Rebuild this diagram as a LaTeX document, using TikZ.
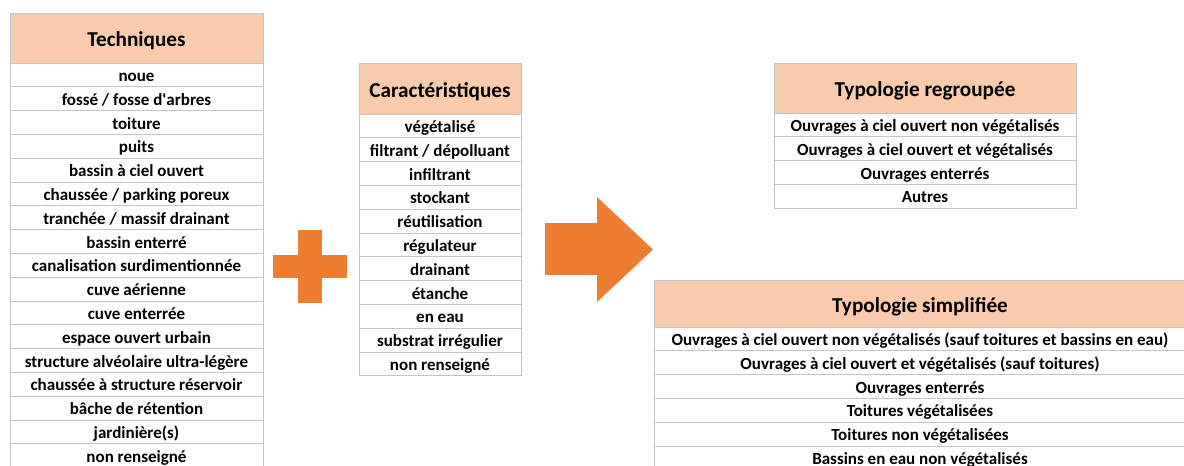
\documentclass[tikz,border=0pt]{standalone}
\usepackage{fontspec}
\setmainfont{Carlito}
\usetikzlibrary{positioning}
\definecolor{peach}{HTML}{F8CBAD}
\definecolor{plusorange}{HTML}{ED7D31}
\definecolor{gridgray}{HTML}{C4C4C4}

\begin{document}
\begin{tikzpicture}[
    x=1pt,y=-1pt,
    node distance=0pt,
    cell/.style={rectangle,draw=gridgray,line width=1pt,outer sep=0pt,inner sep=0pt,minimum height=23.8pt,align=center,font=\fontsize{17}{20}\selectfont\bfseries,text height=15pt,text depth=2pt},
    hdr/.style={cell,fill=peach,font=\fontsize{21.2}{24}\selectfont\bfseries,text height=19pt,text depth=2pt},
    techrow/.style={cell,minimum width=253pt},
    caracrow/.style={cell,minimum width=162pt},
    regrow/.style={cell,minimum width=302pt},
    simprow/.style={cell,minimum width=532pt}
]
    \useasboundingbox (0,0) rectangle (1184,466);
    \clip (0,0) rectangle (1184,466);

    % Techniques
    \node[hdr,minimum width=253pt,minimum height=50pt,anchor=north west] (tech) at (10,13) {Techniques};
    \node[techrow,below=of tech] (t1) {noue};
    \node[techrow,below=of t1] (t2) {fossé / fosse d\textquotesingle arbres};
    \node[techrow,below=of t2] (t3) {toiture};
    \node[techrow,below=of t3] (t4) {puits};
    \node[techrow,below=of t4] (t5) {bassin à ciel ouvert};
    \node[techrow,below=of t5] (t6) {chaussée / parking poreux};
    \node[techrow,below=of t6] (t7) {tranchée / massif drainant};
    \node[techrow,below=of t7] (t8) {bassin enterré};
    \node[techrow,below=of t8] (t9) {canalisation surdimentionnée};
    \node[techrow,below=of t9] (t10) {cuve aérienne};
    \node[techrow,below=of t10] (t11) {cuve enterrée};
    \node[techrow,below=of t11] (t12) {espace ouvert urbain};
    \node[techrow,below=of t12] (t13) {structure alvéolaire ultra-légère};
    \node[techrow,below=of t13] (t14) {chaussée à structure réservoir};
    \node[techrow,below=of t14] (t15) {bâche de rétention};
    \node[techrow,below=of t15] (t16) {jardinière(s)};
    \node[techrow,below=of t16] (t17) {non renseigné};

    % plus
    \fill[plusorange] (298,230) rectangle (322,303);
    \fill[plusorange] (273,255) rectangle (347,278);

    % Caracteristiques
    \node[hdr,minimum width=162pt,minimum height=51pt,anchor=north west] (carac) at (359,63) {Caractéristiques};
    \node[caracrow,below=of carac] (c1) {végétalisé};
    \node[caracrow,below=of c1] (c2) {filtrant / dépolluant};
    \node[caracrow,below=of c2] (c3) {infiltrant};
    \node[caracrow,below=of c3] (c4) {stockant};
    \node[caracrow,below=of c4] (c5) {réutilisation};
    \node[caracrow,below=of c5] (c6) {régulateur};
    \node[caracrow,below=of c6] (c7) {drainant};
    \node[caracrow,below=of c7] (c8) {étanche};
    \node[caracrow,below=of c8] (c9) {en eau};
    \node[caracrow,below=of c9] (c10) {substrat irrégulier};
    \node[caracrow,below=of c10] (c11) {non renseigné};

    % big arrow
    \fill[plusorange] (545,223) -- (597,223) -- (597,197) -- (653,249.5) -- (597,302) -- (597,275) -- (545,275) -- cycle;

    % Typologie regroupee
    \node[hdr,minimum width=302pt,minimum height=50pt,anchor=north west] (regroup) at (774,63) {Typologie regroupée};
    \node[regrow,below=of regroup] (r1) {Ouvrages à ciel ouvert non végétalisés};
    \node[regrow,below=of r1] (r2) {Ouvrages à ciel ouvert et végétalisés};
    \node[regrow,below=of r2] (r3) {Ouvrages enterrés};
    \node[regrow,below=of r3] (r4) {Autres};

    % Typologie simplifiee
    \node[hdr,minimum width=532pt,minimum height=47pt,anchor=north west] (simpl) at (654,280) {Typologie simplifiée};
    \node[simprow,below=of simpl] (s1) {Ouvrages à ciel ouvert non végétalisés (sauf toitures et bassins en eau)};
    \node[simprow,below=of s1] (s2) {Ouvrages à ciel ouvert et végétalisés (sauf toitures)};
    \node[simprow,below=of s2] (s3) {Ouvrages enterrés};
    \node[simprow,below=of s3] (s4) {Toitures végétalisées};
    \node[simprow,below=of s4] (s5) {Toitures non végétalisées};
    \node[simprow,below=of s5] (s6) {Bassins en eau non végétalisés};
\end{tikzpicture}
\end{document}
